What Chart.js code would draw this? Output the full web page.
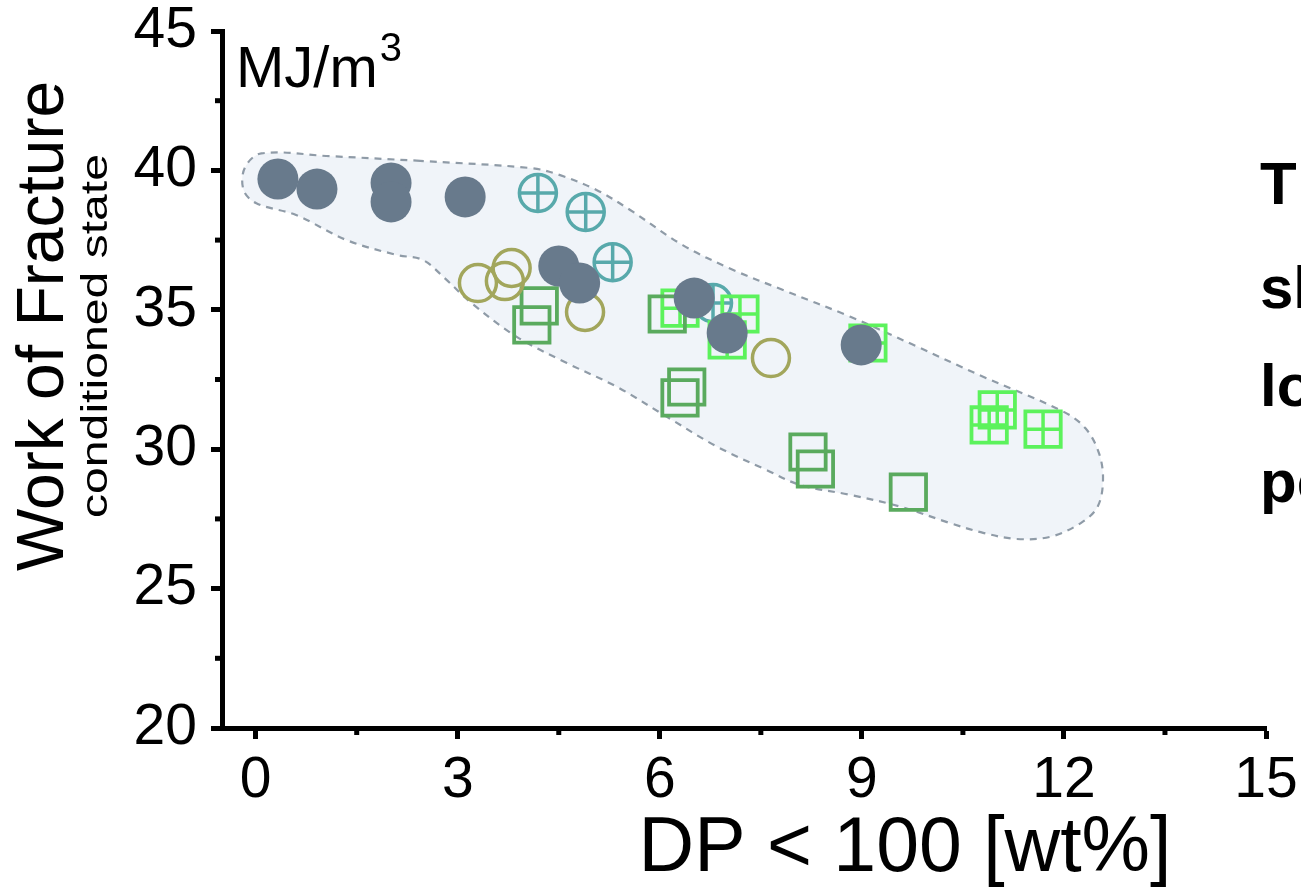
<!DOCTYPE html>
<html>
<head>
<meta charset="utf-8">
<script src="https://cdn.jsdelivr.net/npm/chart.js@4.4.0/dist/chart.umd.min.js"></script>
<style>
  html, body { margin: 0; padding: 0; background: #fff; overflow: hidden; }
</style>
</head>
<body>
<canvas id="chart" width="1301" height="890"></canvas>
<script>
// 数据：DP<100 含量 (x) 与断裂功 (y)
const grayX = [0.33, 0.91, 2.01, 2.01, 3.11, 4.50, 4.81, 6.51, 7.00, 8.99];
const grayY = [39.69, 39.33, 39.55, 38.87, 39.05, 36.57, 35.96, 35.42, 34.17, 33.74];

const tealX = [4.19, 4.90, 5.30, 6.79];
const tealY = [39.19, 38.51, 36.71, 35.24];

const oliveX = [3.80, 3.70, 3.30, 4.89, 7.65];
const oliveY = [36.50, 36.03, 35.96, 34.92, 33.27];

const darkGreenX = [4.21, 4.10, 6.11, 6.40, 6.30, 8.20, 8.31, 9.69];
const darkGreenY = [35.14, 34.46, 34.85, 32.23, 31.84, 29.90, 29.29, 28.46];

const brightGreenX = [6.30, 7.19, 7.00, 9.09, 11.01, 10.89, 11.69];
const brightGreenY = [35.06, 34.85, 33.92, 33.81, 31.41, 30.87, 30.72];

// 阴影区域轮廓
const regionX = [2.39, 4.10, 4.52, 5.06, 5.56, 6.34, 7.09, 7.83, 8.83, 9.82, 10.80, 11.99, 12.32, 12.52, 12.58, 12.50, 12.25, 11.80, 11.30, 10.80, 10.31, 9.57, 8.83, 8.08, 7.59, 6.85, 6.10, 5.36, 4.62, 3.87, 3.18, 2.80, 2.48, 2.09, 1.35, 0.60, 0.01, -0.18, -0.16, 0.085, 1.10, 2.39];
const regionY = [40.35, 40.08, 39.83, 39.30, 38.58, 37.32, 36.43, 35.71, 34.75, 33.68, 32.60, 31.35, 30.75, 29.86, 28.90, 27.94, 27.35, 26.86, 26.78, 27.00, 27.35, 27.94, 28.36, 28.72, 29.25, 30.09, 31.17, 32.24, 33.09, 34.04, 35.29, 36.15, 36.79, 36.97, 37.50, 38.40, 38.82, 39.30, 40.10, 40.61, 40.51, 40.35];

const xMinor = [1.5, 4.5, 7.5, 10.5, 13.5];
const yMinor = [22.5, 27.5, 32.5, 37.5, 42.5];

const pts = (xs, ys) => xs.map((x, i) => ({ x: x, y: ys[i] }));
const FONT = '"Liberation Sans", Arial, Helvetica, sans-serif';

// 次刻度
const minorTicks = {
  id: 'minorTicks',
  afterDraw(chart) {
    const { ctx, chartArea } = chart;
    const xs = chart.scales.x, ys = chart.scales.y;
    ctx.save();
    ctx.fillStyle = '#000';
    xMinor.forEach(v => {
      const px = xs.getPixelForValue(v);
      ctx.fillRect(px - 2.5, chartArea.bottom + 2, 5, 5);
    });
    yMinor.forEach(v => {
      const py = ys.getPixelForValue(v);
      ctx.fillRect(chartArea.left - 7, py - 2.5, 5, 5);
    });
    ctx.restore();
  }
};

// 轴标题和其他文字
const labels = {
  id: 'labels',
  afterDraw(chart) {
    const ctx = chart.ctx;
    ctx.save();
    ctx.fillStyle = '#000';
    ctx.textBaseline = 'alphabetic';

    // y 轴标题
    ctx.save();
    ctx.translate(63, 326);
    ctx.rotate(-Math.PI / 2);
    ctx.textAlign = 'center';
    ctx.font = '66px ' + FONT;
    ctx.fillText('Work of Fracture', 0, 0);
    ctx.restore();

    ctx.save();
    ctx.translate(107, 336);
    ctx.rotate(-Math.PI / 2);
    ctx.textAlign = 'center';
    ctx.font = '37px ' + FONT;
    const w = ctx.measureText('conditioned state').width;
    ctx.scale(364 / w, 1);
    ctx.fillText('conditioned state', 0, 0);
    ctx.restore();

    // 单位
    ctx.textAlign = 'left';
    ctx.font = '58px ' + FONT;
    ctx.fillText('MJ/m', 236, 87);
    const mw = ctx.measureText('MJ/m').width;
    ctx.font = '40px ' + FONT;
    ctx.fillText('3', 236 + mw + 2, 61);

    // x 轴标题
    ctx.textAlign = 'center';
    ctx.font = '77px ' + FONT;
    ctx.fillText('DP < 100 [wt%]', 905, 871);

    // 右侧被截断的文字
    ctx.textAlign = 'left';
    ctx.font = 'bold 60px ' + FONT;
    ctx.fillText('T', 1260, 204);
    ctx.fillText('sh', 1260, 308);
    ctx.fillText('lo', 1260, 406);
    ctx.fillText('pe', 1260, 502);
    ctx.restore();
  }
};

const ctx = document.getElementById('chart').getContext('2d');

new Chart(ctx, {
  type: 'scatter',
  data: {
    datasets: [
      {
        data: pts(grayX, grayY),
        pointStyle: 'circle', pointRadius: 20.5,
        backgroundColor: '#687a8c', borderWidth: 0,
        order: 0
      },
      {
        data: pts(oliveX, oliveY),
        pointStyle: 'circle', pointRadius: 18.5,
        backgroundColor: 'rgba(0,0,0,0)', borderColor: '#a2a65c', borderWidth: 3.5,
        order: 1
      },
      {
        data: pts(darkGreenX, darkGreenY),
        pointStyle: 'rect', pointRadius: 25,
        backgroundColor: 'rgba(0,0,0,0)', borderColor: '#5aaa5e', borderWidth: 3.8,
        order: 2
      },
      {
        data: pts(brightGreenX, brightGreenY),
        pointStyle: 'rect', pointRadius: 25,
        backgroundColor: 'rgba(0,0,0,0)', borderColor: '#5cf25c', borderWidth: 3.8,
        order: 3
      },
      {
        data: pts(brightGreenX, brightGreenY),
        pointStyle: 'cross', pointRadius: 17.7,
        borderColor: '#5cf25c', borderWidth: 3.5,
        order: 3
      },
      {
        data: pts(tealX, tealY),
        pointStyle: 'circle', pointRadius: 18.5,
        backgroundColor: 'rgba(0,0,0,0)', borderColor: '#58a9ab', borderWidth: 3.5,
        order: 4
      },
      {
        data: pts(tealX, tealY),
        pointStyle: 'cross', pointRadius: 18.5,
        borderColor: '#58a9ab', borderWidth: 3.5,
        order: 4
      },
      {
        data: pts(regionX, regionY),
        showLine: true,
        fill: 'shape',
        backgroundColor: '#f0f4f9',
        borderColor: '#8f9ba7',
        borderWidth: 2.2,
        borderDash: [7, 6],
        tension: 0.35,
        pointRadius: 0,
        order: 10
      }
    ]
  },
  options: {
    responsive: false,
    animation: false,
    events: [],
    layout: { padding: { top: 31, right: 35, left: 0, bottom: 0 } },
    plugins: {
      legend: { display: false },
      tooltip: { enabled: false }
    },
    scales: {
      x: {
        type: 'linear',
        min: -0.5,
        max: 15,
        ticks: {
          stepSize: 3,
          includeBounds: false,
          color: '#000',
          padding: 8,
          font: { size: 57, family: FONT }
        },
        grid: { drawOnChartArea: false, drawTicks: true, tickLength: 11, tickWidth: 5, tickColor: '#000' },
        border: { display: true, color: '#000', width: 5 },
        afterFit: s => {
          s.height = 162;
          s.paddingLeft = 0; s.paddingRight = 0;
        }
      },
      y: {
        min: 20,
        max: 45,
        ticks: {
          stepSize: 5,
          color: '#000',
          padding: 14,
          font: { size: 57, family: FONT, lineHeight: 1 }
        },
        grid: { drawOnChartArea: false, drawTicks: true, tickLength: 11, tickWidth: 5, tickColor: '#000' },
        border: { display: true, color: '#000', width: 5 },
        afterFit: s => {
          s.width = 222;
          s.paddingTop = 0; s.paddingBottom = 0;
        }
      }
    }
  },
  plugins: [minorTicks, labels]
});
</script>
</body>
</html>
